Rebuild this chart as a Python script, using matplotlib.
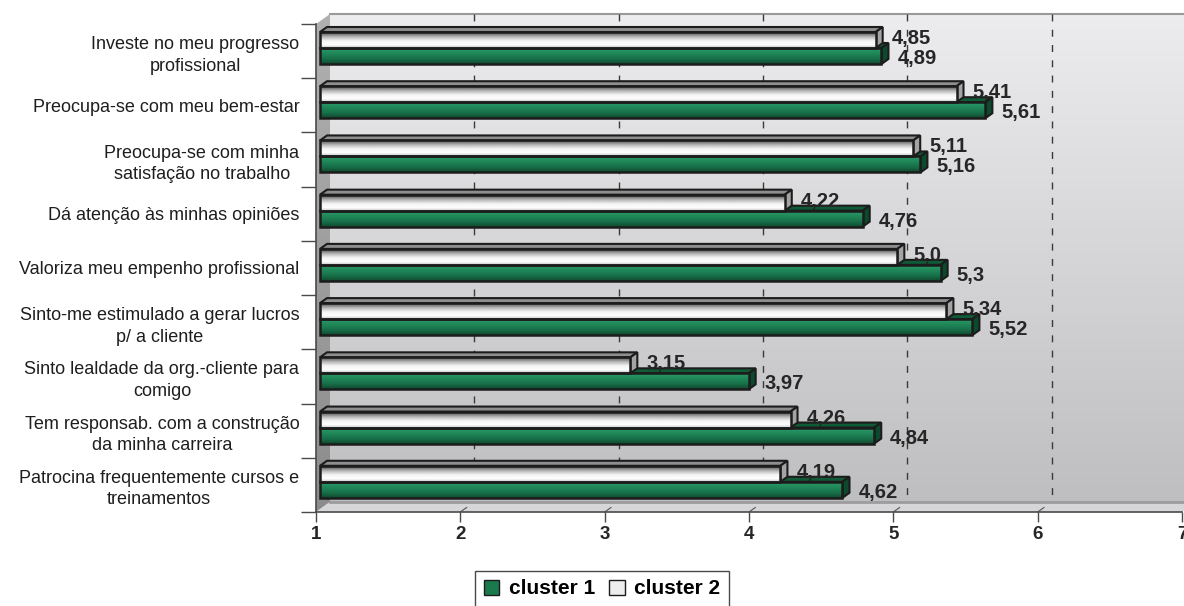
import numpy as np
import matplotlib
matplotlib.use('Agg')
import matplotlib.pyplot as plt
from matplotlib.colors import LinearSegmentedColormap
from matplotlib.patches import Polygon, Patch

categories = [
    'Investe no meu progresso\nprofissional',
    'Preocupa-se com meu bem-estar',
    'Preocupa-se com minha\nsatisfação no trabalho',
    'Dá atenção às minhas opiniões',
    'Valoriza meu empenho profissional',
    'Sinto-me estimulado a gerar lucros\np/ a cliente',
    'Sinto lealdade da org.-cliente para\ncomigo',
    'Tem responsab. com a construção\nda minha carreira',
    'Patrocina frequentemente cursos e\ntreinamentos',
]
cluster1 = [4.89, 5.61, 5.16, 4.76, 5.3, 5.52, 3.97, 4.84, 4.62]
cluster2 = [4.85, 5.41, 5.11, 4.22, 5.0, 5.34, 3.15, 4.26, 4.19]
series_names = ['cluster 1', 'cluster 2']
x_ticks = [1, 2, 3, 4, 5, 6, 7]

plt.rcParams['font.family'] = ['Liberation Sans', 'DejaVu Sans']

W, H = 1184, 606
fig = plt.figure(figsize=(W / 100, H / 100), dpi=100)
ax = fig.add_axes([316 / W, 94 / H, 866 / W, 488 / H])
x0, x1 = x_ticks[0], x_ticks[-1]
n = len(categories)

# pixel -> data unit helpers (y axis is inverted, categories top to bottom)
PX = (x1 - x0) / 866
PY = n / 488

WALL_DX, WALL_DY = 14 * PX, 10 * PY
BAR_DX, BAR_DY = 7 * PX, 5 * PY
BAR_SHIFT = 4 * PX
BAR_H = 16 * PY
EDGE = '#1c1c1c'

green_cmap = LinearSegmentedColormap.from_list(
    'green', ['#2c9a6a', '#1f8758', '#18704a', '#10492f'])
white_cmap = LinearSegmentedColormap.from_list(
    'white', [(0, '#4a4a4a'), (0.3, '#b8b8b8'), (0.55, '#f4f4f4'),
              (0.8, '#ffffff'), (1, '#c4c4c4')])
wall_cmap = LinearSegmentedColormap.from_list('wall', ['#ececee', '#bebec0'])
side_cmap = LinearSegmentedColormap.from_list('side', ['#b0b0b0', '#8c8c8c'])
grad = np.linspace(0, 1, 64).reshape(-1, 1)


def gradient_fill(patch, cmap, extent, zorder):
    im = ax.imshow(grad, cmap=cmap, aspect='auto', extent=extent,
                   origin='upper', interpolation='bilinear', zorder=zorder)
    im.set_clip_box(fig.bbox)
    im.set_clip_path(patch)
    return im


# back wall
wall = Polygon([(x0 + WALL_DX, -WALL_DY), (x1 + WALL_DX, -WALL_DY),
                (x1 + WALL_DX, n - WALL_DY), (x0 + WALL_DX, n - WALL_DY)],
               closed=True, facecolor='none', edgecolor='none', clip_on=False)
ax.add_patch(wall)
gradient_fill(wall, wall_cmap, (x0, x1 + WALL_DX, n, -WALL_DY), 0)
ax.plot([x0 + WALL_DX, x1 + WALL_DX], [-WALL_DY, -WALL_DY], color='#9a9a9c',
        lw=1.5, clip_on=False, zorder=1)

# left side wall
side = Polygon([(x0, 0), (x0 + WALL_DX, -WALL_DY), (x0 + WALL_DX, n - WALL_DY),
                (x0, n)], closed=True, facecolor='none', edgecolor='none',
               clip_on=False)
ax.add_patch(side)
gradient_fill(side, side_cmap, (x0, x0 + WALL_DX, n, -WALL_DY), 1)

# floor
floor = Polygon([(x0, n), (x0 + WALL_DX, n - WALL_DY), (x1 + WALL_DX, n - WALL_DY),
                 (x1, n)], closed=True, facecolor='#d6d6d8', edgecolor='none',
                clip_on=False, zorder=1)
ax.add_patch(floor)
ax.plot([x0 + WALL_DX, x1 + WALL_DX], [n - WALL_DY, n - WALL_DY],
        color='#9c9c9e', lw=2, clip_on=False, zorder=1)

# dashed gridlines on the back wall and short marks on the floor
for v in x_ticks[1:-1]:
    ax.plot([v + WALL_DX, v + WALL_DX], [-WALL_DY, n - WALL_DY], color='#3a3a3a',
            lw=1, ls=(0, (5, 6)), clip_on=False, zorder=2)
    ax.plot([v, v + WALL_DX * 0.45], [n, n - WALL_DY * 0.45], color='#555555',
            lw=0.8, clip_on=False, zorder=2)


def draw_bar(i, value, top, cmap, face_top, face_side, show_top=True):
    left = x0 + BAR_SHIFT
    right = value + BAR_SHIFT
    bottom = top + BAR_H
    z = 5 + i * 0.1
    if show_top:
        ax.add_patch(Polygon([(left, top), (right, top), (right + BAR_DX, top - BAR_DY),
                              (left + BAR_DX, top - BAR_DY)], closed=True,
                             facecolor=face_top, edgecolor=EDGE, lw=1.5,
                             zorder=z, clip_on=False))
    ax.add_patch(Polygon([(right, top), (right + BAR_DX, top - BAR_DY),
                          (right + BAR_DX, bottom - BAR_DY), (right, bottom)],
                         closed=True, facecolor=face_side, edgecolor=EDGE,
                         lw=1.5, zorder=z + 0.01, clip_on=False))
    bar = ax.barh(top + BAR_H / 2, right - left, left=left, height=BAR_H,
                  facecolor='none', edgecolor=EDGE, lw=1.8,
                  zorder=z + 0.03)[0]
    gradient_fill(bar, cmap, (left, right, bottom, top), z + 0.02)


for i in range(n):
    top_white = i + 8 * PY
    top_green = i + 24 * PY
    # green top face sits behind the white bar, so draw it first
    ax.add_patch(Polygon([(x0 + BAR_SHIFT, top_green),
                          (cluster1[i] + BAR_SHIFT, top_green),
                          (cluster1[i] + BAR_SHIFT + BAR_DX, top_green - BAR_DY),
                          (x0 + BAR_SHIFT + BAR_DX, top_green - BAR_DY)],
                         closed=True, facecolor='#0f5a37', edgecolor=EDGE,
                         lw=1.5, zorder=4, clip_on=False))
    draw_bar(i, cluster2[i], top_white, white_cmap, '#8e8e8e', '#a4a4a4')
    draw_bar(i, cluster1[i], top_green, green_cmap, '#0f5a37', '#0b4a2c',
             show_top=False)

    for value, yc in ((cluster2[i], top_white + 6.5 * PY),
                      (cluster1[i], top_green + 10.5 * PY)):
        ax.text(value + BAR_SHIFT + BAR_DX + 9 * PX, yc,
                str(value).replace('.', ','), ha='left', va='center',
                fontsize=14.5, fontweight='bold', color='#262626', zorder=10)

ax.set_xlim(x0, x1)
ax.set_ylim(n, 0)
ax.set_xticks(x_ticks)
ax.set_xticklabels([str(t) for t in x_ticks], fontsize=13.5, fontweight='bold',
                   color='#262626')
ax.tick_params(axis='x', length=7, width=1, color='#4a4a4a', pad=3)
ax.set_yticks(np.arange(n) + 0.5)
ax.set_yticklabels(categories, fontsize=13, color='#1e1e1e',
                   multialignment='center', linespacing=1.35)
ax.set_yticks(np.arange(n + 1), minor=True)
ax.tick_params(axis='y', which='major', length=0, pad=12)
ax.tick_params(axis='y', which='minor', length=11, width=1, color='#4a4a4a')
for s in ('top', 'right'):
    ax.spines[s].set_visible(False)
for s in ('left', 'bottom'):
    ax.spines[s].set_color('#4a4a4a')
    ax.spines[s].set_linewidth(1.2)
    ax.spines[s].set_zorder(3)
ax.patch.set_visible(False)

handles = [Patch(facecolor='#1a7a4e', edgecolor=EDGE, lw=1),
           Patch(facecolor='#ededed', edgecolor=EDGE, lw=1)]
fig.legend(handles, series_names, loc='center', bbox_to_anchor=(602 / W, 1 - 589 / H),
           ncol=2, fancybox=False, frameon=True, edgecolor=EDGE,
           prop={'weight': 'bold', 'size': 15}, handlelength=0.75, handleheight=0.75,
           handletextpad=0.45, columnspacing=0.7, borderpad=0.4, borderaxespad=0)

fig.savefig('out.png', dpi=100)
